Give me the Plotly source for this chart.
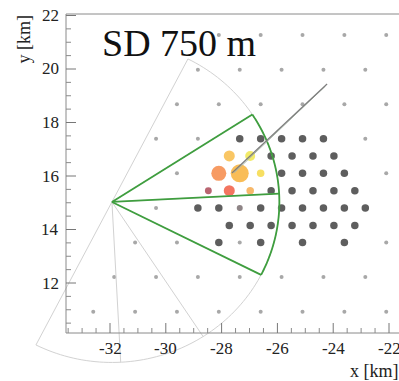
import numpy as np
import plotly.graph_objects as go

W, H = 399, 381

# ---------------- data (km) ----------------
gray_x = [-28.1, -26.6, -25.1, -23.6, -22.1,
          -28.85, -27.35, -25.85, -24.35, -22.85,
          -29.6, -28.1, -26.6, -25.1, -23.6, -22.1,
          -30.35, -28.85, -22.85,
          -29.6, -22.1,
          -30.35,
          -31.1, -29.6, -27.35, -22.1,
          -31.85, -30.35, -28.85, -27.35, -25.85, -24.35, -22.85,
          -32.6, -31.1, -29.6, -28.1, -26.6, -25.1, -23.6, -22.1]
gray_y = [21.27] * 5 + [19.97] * 5 + [18.68] * 6 + [17.39] * 3 + [16.1] * 2 + [14.8] \
    + [13.51] * 4 + [12.22] * 7 + [10.93] * 8

dark_x = [-27.35, -26.6, -25.85, -25.1, -24.35,
          -26.225, -25.475, -24.725, -23.975,
          -25.85, -25.1, -24.35, -23.6,
          -26.225, -25.475, -24.725, -23.975, -23.225,
          -28.85, -28.1, -26.6, -25.85, -25.1, -24.35, -23.6, -22.85,
          -27.725, -26.975, -26.225, -25.475, -24.725, -23.975, -23.225,
          -28.1, -26.6, -25.1, -23.6]
dark_y = [17.39] * 5 + [16.75] * 4 + [16.1] * 4 + [15.45] * 5 + [14.8] * 8 \
    + [14.15] * 7 + [13.51] * 4

odd_x = [-27.35]
odd_y = [14.8]

# triggered stations: position, signal (VEM) and timing rank (early -> late)
hit_x = [-26.975, -26.6, -27.725, -27.35, -26.975, -28.1, -27.725, -28.475]
hit_y = [16.75, 16.1, 16.75, 16.1, 15.45, 16.1, 15.45, 15.45]
hit_signal = [25, 8, 40, 1000, 8, 250, 40, 6]
hit_rank = [0, 1, 2, 3, 4, 5, 6, 7]

eye_x, eye_y = -31.93, 15.03
fov_radius = 6.0
bay_edges = [63, 33, 3, -27, -57, -87, -117]
hit_bay_edges = [33, 3, -27]

axis_x = [-27.63, -24.22]
axis_y = [16.11, 19.44]
axis2_x = [-27.55, -24.28]
axis2_y = [16.12, 19.36]

x_tickvals = [-32, -30, -28, -26, -24, -22]
x_ticktext = ["-32", "-30", "-28", "-26", "-24", "-22"]
y_tickvals = [12, 14, 16, 18, 20, 22]
y_ticktext = ["12", "14", "16", "18", "20", "22"]

# ---------------- geometry ----------------
X_RANGE = [-33.577, -21.642]
Y_RANGE = [10.131, 22.056]
x_dom = [66 / W, 1.0]
y_dom = [(H - 333) / H, (H - 14) / H]
ppu_x = (x_dom[1] - x_dom[0]) * W / (X_RANGE[1] - X_RANGE[0])
ppu_y = (y_dom[1] - y_dom[0]) * H / (Y_RANGE[1] - Y_RANGE[0])
X2 = [X_RANGE[0] - x_dom[0] * W / ppu_x, X_RANGE[1] + (1 - x_dom[1]) * W / ppu_x]
Y2 = [Y_RANGE[0] - y_dom[0] * H / ppu_y, Y_RANGE[1] + (1 - y_dom[1]) * H / ppu_y]

fig = go.Figure()
shapes = []


def path_of(xs, ys):
    pts = [f"{float(a):.5f},{float(b):.5f}" for a, b in zip(xs, ys)]
    return "M " + " L ".join(pts)


def add_path(xs, ys, color, width):
    shapes.append(dict(type="path", xref="x2", yref="y2", path=path_of(xs, ys),
                       line=dict(color=color, width=width), layer="above"))


def add_seg(x0, y0, x1, y1, color, width=1):
    shapes.append(dict(type="line", xref="x2", yref="y2", x0=x0, y0=y0, x1=x1, y1=y1,
                       line=dict(color=color, width=width), layer="above"))


def add_sector(edges, color, width):
    for a in edges:
        r = np.radians(a)
        add_path([eye_x, eye_x + fov_radius * np.cos(r)],
                 [eye_y, eye_y + fov_radius * np.sin(r)], color, width)
    t = np.radians(np.linspace(edges[0], edges[-1], 120))
    add_path(eye_x + fov_radius * np.cos(t), eye_y + fov_radius * np.sin(t), color, width)


fig.add_trace(go.Scatter(x=gray_x, y=gray_y, mode="markers", xaxis="x", yaxis="y",
                         marker=dict(size=4, color="#a8a8a8"), hoverinfo="skip"))
fig.add_trace(go.Scatter(x=dark_x, y=dark_y, mode="markers", xaxis="x", yaxis="y",
                         marker=dict(size=7.5, color="#5e5e5e"), hoverinfo="skip"))
fig.add_trace(go.Scatter(x=odd_x, y=odd_y, mode="markers", xaxis="x", yaxis="y",
                         marker=dict(size=6, color="#8e8486"), hoverinfo="skip"))

palette = ["#EDE12A", "#F4D21F", "#F6AE22", "#F7A10F", "#F39A2B",
           "#F37021", "#EE3B1D", "#9B2335"]
hit_colors = [palette[r] for r in hit_rank]
sizes = [float(3 + 5 * np.log10(s)) for s in hit_signal]
fig.add_trace(go.Scatter(x=hit_x, y=hit_y, mode="markers", xaxis="x", yaxis="y",
                         marker=dict(size=sizes, color=hit_colors, line=dict(width=0)),
                         hoverinfo="skip"))

# field of view and shower axis
add_sector(bay_edges, "#d2d2d2", 1)
add_sector(hit_bay_edges, "#3f9e3f", 1.8)
add_path(axis2_x, axis2_y, "#a9b8a9", 1)
add_path(axis_x, axis_y, "#7d7d7d", 1.2)

# axis frame and ticks (ROOT style, ticks inside)
axc, tkc, mnc = "#8a8a8a", "#777777", "#8a8a8a"
add_seg(X_RANGE[0], Y_RANGE[0], X2[1], Y_RANGE[0], axc)
add_seg(X_RANGE[0], Y_RANGE[1], X2[1], Y_RANGE[1], axc)
add_seg(X_RANGE[0], Y_RANGE[0], X_RANGE[0], Y_RANGE[1], axc)
for v in np.arange(np.ceil(X_RANGE[0] * 2) / 2, X_RANGE[1], 0.5):
    major = abs(v / 2 - round(v / 2)) < 1e-9
    L = (10 if major else 5) / ppu_y
    add_seg(v, Y_RANGE[0], v, Y_RANGE[0] + L, tkc if major else mnc)
for v in np.arange(np.ceil(Y_RANGE[0] * 2) / 2, Y_RANGE[1] + 1e-9, 0.5):
    major = abs(v / 2 - round(v / 2)) < 1e-9
    L = (10 if major else 5) / ppu_x
    add_seg(X_RANGE[0], v, X_RANGE[0] + L, v, tkc if major else mnc)

fig.update_layout(
    width=W, height=H, margin=dict(l=0, r=0, t=0, b=0),
    paper_bgcolor="white", plot_bgcolor="rgba(0,0,0,0)",
    showlegend=False, template="none", shapes=shapes,
    xaxis=dict(domain=x_dom, range=X_RANGE, anchor="y", visible=False),
    yaxis=dict(domain=y_dom, range=Y_RANGE, anchor="x", visible=False),
    xaxis2=dict(domain=[0, 1], range=X2, anchor="y2", visible=False),
    yaxis2=dict(domain=[0, 1], range=Y2, anchor="x2", visible=False),
)

serif = "Liberation Serif"
for v, t in zip(x_tickvals, x_ticktext):
    fig.add_annotation(text=t, xref="x", yref="paper", x=v, y=1 - 348 / H,
                       xanchor="center", yanchor="middle", showarrow=False,
                       font=dict(family=serif, size=17, color="#222"))
for v, t in zip(y_tickvals, y_ticktext):
    fig.add_annotation(text=t, xref="paper", yref="y", x=61 / W, y=v,
                       xanchor="right", yanchor="middle", showarrow=False,
                       font=dict(family=serif, size=17, color="#222"))

fig.add_annotation(text="SD 750 m", xref="paper", yref="paper", x=100 / W, y=1 - 43 / H,
                   xanchor="left", yanchor="middle", showarrow=False,
                   font=dict(family=serif, size=38, color="#111"))
fig.add_annotation(text="y [km]", xref="paper", yref="paper", x=23.5 / W, y=1 - 39 / H,
                   xanchor="center", yanchor="middle", textangle=-90, showarrow=False,
                   font=dict(family=serif, size=18, color="#222"))
fig.add_annotation(text="x [km]", xref="paper", yref="paper", x=348 / W, y=1 - 371 / H,
                   xanchor="left", yanchor="middle", showarrow=False,
                   font=dict(family=serif, size=18, color="#222"))

fig.write_html("out.html")
